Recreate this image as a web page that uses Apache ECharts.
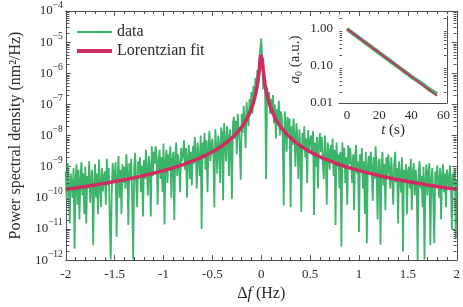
<!DOCTYPE html>
<html><head><meta charset="utf-8">
<script src="https://cdn.jsdelivr.net/npm/echarts@6/dist/echarts.min.js"></script>
<style>html,body{margin:0;padding:0;background:#fff}#c{width:463px;height:307px}</style>
</head><body><div id="c"></div>
<script>
// ---------- DATA ----------
const fStart = -2.0, fStep = 0.01;   // frequency grid of the measured PSD (Hz)
const psd = [
 7e-10, 8e-11, 1.3e-9, 2.5e-10, 1.5e-11, 6e-10, 3e-10, 1e-10, 9e-10, 2.3e-12,
 3.5e-10, 1.2e-9, 6e-11, 8e-10, 2e-11, 4e-10, 1.4e-9, 1.2e-10, 6e-10, 3e-11,
 1e-9, 1.5e-11, 5e-10, 2e-10, 1.5e-9, 7e-11, 4e-10, 8e-10, 3e-12, 2.5e-10,
 1.2e-9, 1e-10, 6e-10, 3e-11, 1.7e-9, 3e-10, 5e-11, 9e-10, 1.6e-10, 5e-10,
 7e-10, 6e-11, 1.8e-9, 2.5e-10, 9e-10, 2e-11, 1.05e-12, 1.2e-10, 1.3e-9, 3.5e-10,
 5e-10, 1.4e-9, 5.6e-12, 4e-10, 2.2e-9, 1e-10, 8e-10, 3e-11, 1.2e-9, 3e-10,
 1e-9, 2e-10, 2.5e-9, 6e-10, 1.35e-11, 1.3e-9, 4e-10, 1.8e-9, 8e-11, 1.05e-12,
 9e-10, 2.8e-9, 3e-10, 5e-11, 1.5e-9, 6e-10, 2e-9, 1.5e-10, 1.1e-9, 2.5e-11,
 1.6e-9, 4e-10, 3.5e-9, 8e-10, 1.2e-10, 2.2e-9, 1e-9, 2.5e-11, 4.5e-9, 5e-10,
 3e-9, 1.2e-9, 4.5e-9, 2e-9, 6e-11, 1.5e-9, 3.5e-9, 4e-10, 2e-9, 1.5e-10,
 5.5e-9, 1.4e-11, 1.5e-9, 3.5e-9, 3e-10, 2.5e-9, 1e-9, 4.5e-9, 1e-10, 1.8e-9,
 3e-9, 1.9e-11, 2e-9, 6e-9, 5e-10, 2.5e-9, 1.2e-9, 1.5e-10, 4e-9, 1.5e-9,
 2.5e-9, 7e-9, 8e-10, 4e-9, 1e-10, 2e-9, 5e-9, 4e-10, 3e-9, 2.5e-10,
 4.5e-9, 1.2e-9, 9e-9, 3e-9, 2e-10, 6e-9, 2e-9, 5e-10, 1e-8, 1e-11,
 6e-9, 2e-9, 1.2e-8, 8e-10, 7e-9, 1.5e-10, 4e-9, 1.4e-8, 1.5e-9, 5e-9,
 8e-9, 2.5e-9, 4.9e-11, 1.6e-8, 4.5e-9, 6e-10, 1e-8, 5e-9, 3e-10, 1.8e-8,
 1.2e-8, 8.3e-11, 2.5e-8, 6e-9, 1.5e-9, 2e-8, 8e-9, 5e-10, 1.6e-8, 5e-9,
 9e-11, 2.5e-8, 4e-8, 8e-9, 3e-8, 2.5e-9, 5e-8, 1.5e-8, 5e-9, 3.8e-10,
 5e-8, 1.2e-8, 9e-8, 3e-8, 4e-9, 1.2e-7, 4e-8, 2e-8, 1.5e-7, 6e-8,
 2.5e-7, 5e-8, 4e-7, 1.5e-7, 7e-7, 2.5e-7, 1.3e-6, 6e-7, 3e-6, 6e-6,
 1.3e-5,
 2.5e-6, 3e-7, 8e-7, 2e-7, 4e-10, 3.5e-7, 1.2e-7, 2.5e-7, 5e-8, 1.5e-7,
 6e-8, 2e-7, 2.5e-8, 1e-7, 8e-9, 7e-8, 3e-8, 1.3e-7, 1e-8, 6e-8,
 4e-8, 8e-9, 5.7e-11, 6e-8, 2.5e-8, 3e-9, 4e-8, 1.2e-8, 3.5e-8, 5e-11,
 2e-8, 5e-9, 3.5e-8, 1e-8, 1e-9, 2.5e-8, 7e-9, 4e-10, 1.6e-8, 4e-9,
 3.5e-11, 1.2e-8, 4e-9, 2e-8, 2e-9, 8e-9, 3e-10, 1.5e-8, 3e-9, 7e-9,
 1e-8, 2.5e-9, 1.4e-8, 2.8e-11, 6e-9, 1e-9, 9e-9, 2e-10, 5e-9, 1.2e-8,
 3e-9, 9e-9, 1.2e-9, 4e-10, 1e-8, 2.5e-9, 6e-11, 6e-9, 3e-9, 8e-10,
 5e-9, 1.5e-9, 8e-9, 5e-10, 3.5e-9, 1.35e-11, 6e-9, 1e-9, 2.5e-9, 2e-10,
 3e-9, 2.7e-12, 6e-9, 1e-9, 4e-9, 3e-10, 2e-9, 6e-11, 5e-9, 1.2e-9,
 4e-9, 1.2e-9, 3e-10, 2.5e-9, 4e-11, 2e-9, 5e-9, 6e-10, 1.5e-9, 8e-12,
 2.5e-9, 7e-10, 4e-9, 2e-10, 1.5e-9, 3e-11, 3e-9, 3.4e-12, 1e-9, 2.2e-9,
 6e-10, 3e-9, 1e-9, 8e-11, 2e-9, 4e-10, 4.5e-9, 7e-10, 2e-11, 1.5e-9,
 1.8e-9, 3.1e-12, 9e-10, 3e-9, 2.5e-10, 1.2e-9, 4e-11, 2e-9, 5e-10, 2.5e-9,
 8e-10, 2e-10, 2e-9, 5e-10, 6e-11, 1.2e-9, 3e-9, 3e-10, 9e-10, 1.5e-11,
 1.5e-9, 5e-10, 1.5e-10, 2e-9, 1.9e-12, 8e-10, 3e-10, 1.2e-9, 3e-11, 7e-10,
 1e-9, 2e-10, 1.8e-9, 4e-11, 6e-10, 1.3e-9, 1.2e-10, 8e-10, 3e-10, 1.05e-12,
 7e-10, 1.5e-9, 2e-10, 5e-10, 5e-11, 1e-9, 1.05e-12, 4e-10, 1.2e-9, 1.2e-10,
 6e-10, 1.3e-9, 3e-12, 4e-10, 9e-10, 8e-11, 3.5e-12, 7e-10, 2.5e-10, 1.1e-9,
 4e-10, 1e-10, 9e-10, 2e-11, 5e-10, 1.2e-9, 1.5e-10, 6e-10, 5e-11, 8e-10,
 7e-10, 2e-10, 1.1e-9, 3.5e-10, 1e-11, 6e-10, 2.5e-10, 9e-10, 5e-12, 4e-10
];
const fitFreq = [-2, -1.9, -1.8, -1.7, -1.6, -1.5, -1.4, -1.3, -1.2, -1.1, -1.0, -0.9, -0.8, -0.7, -0.6, -0.55, -0.5, -0.45, -0.4, -0.35, -0.3, -0.25, -0.2, -0.18, -0.15, -0.12, -0.1, -0.09, -0.08, -0.07, -0.06, -0.05, -0.04, -0.03, -0.02, -0.015, -0.01, -0.005, 0,
  0.005, 0.01, 0.015, 0.02, 0.03, 0.04, 0.05, 0.06, 0.07, 0.08, 0.09, 0.1, 0.12, 0.15, 0.18, 0.2, 0.25, 0.3, 0.35, 0.4, 0.45, 0.5, 0.55, 0.6, 0.7, 0.8, 0.9, 1.0, 1.1, 1.2, 1.3, 1.4, 1.5, 1.6, 1.7, 1.8, 1.9, 2];
const fitPsd = [1.875e-10, 2.077e-10, 2.315e-10, 2.595e-10, 2.929e-10, 3.333e-10, 3.826e-10, 4.437e-10, 5.208e-10, 6.197e-10, 7.499e-10, 9.257e-10, 1.172e-9, 1.530e-9, 2.082e-9, 2.478e-9, 2.998e-9, 3.701e-9, 4.683e-9, 6.114e-9, 8.318e-9, 1.197e-8, 1.867e-8, 2.303e-8, 3.309e-8, 5.149e-8, 7.377e-8, 9.07e-8, 1.142e-7, 1.480e-7, 1.991e-7, 2.812e-7, 4.245e-7, 7.03e-7, 1.323e-6, 1.914e-6, 2.81e-6, 3.91e-6, 4.5e-6,
  3.91e-6, 2.81e-6, 1.914e-6, 1.323e-6, 7.03e-7, 4.245e-7, 2.812e-7, 1.991e-7, 1.480e-7, 1.142e-7, 9.07e-8, 7.377e-8, 5.149e-8, 3.309e-8, 2.303e-8, 1.867e-8, 1.197e-8, 8.318e-9, 6.114e-9, 4.683e-9, 3.701e-9, 2.998e-9, 2.478e-9, 2.082e-9, 1.530e-9, 1.172e-9, 9.257e-10, 7.499e-10, 6.197e-10, 5.208e-10, 4.437e-10, 3.826e-10, 3.333e-10, 2.929e-10, 2.595e-10, 2.315e-10, 2.077e-10, 1.875e-10];
// inset: amplitude decay
const inTime = [0, 2, 4, 6, 8, 10, 12, 14, 16, 18, 20, 22, 24, 26, 28, 30, 32, 34, 36, 38, 40, 42, 44, 46, 48, 50, 52, 54, 56];
const inAmp  = [1.0, 0.86, 0.745, 0.64, 0.552, 0.478, 0.41, 0.356, 0.305, 0.265, 0.226, 0.197, 0.168, 0.146, 0.126, 0.108, 0.094, 0.081, 0.0695, 0.060, 0.052, 0.045, 0.0395, 0.0345, 0.030, 0.0255, 0.022, 0.0195, 0.0175];
const inFitTime = [0, 8, 16, 24, 32, 40, 48, 56];
const inFitAmp  = [1.0, 0.553, 0.306, 0.169, 0.0935, 0.0517, 0.0286, 0.0158];
const xTickLabelsInset = [0, 20, 40, 60];
const yTickLabelsInset = [0.01, 0.1, 1];

// ---------- STYLE ----------
const FONT = 'Liberation Serif';
const TXT = '#2b2b2b';
const AX = '#505050';
const GREEN = '#3cb46a';
const RED = '#cf2c60';

const psdPairs = psd.map((v, i) => [Number((fStart + i * fStep).toFixed(2)), v]);
const fitPairs = fitFreq.map((f, i) => [f, fitPsd[i]]);
const inPairs = inTime.map((t, i) => [t, inAmp[i]]);
const inFitPairs = inFitTime.map((t, i) => [t, inFitAmp[i]]);

const mainMinor = [];
for (let e = -12; e < -4; e++) for (let k = 2; k <= 9; k++) mainMinor.push(Number((k * Math.pow(10, e)).toPrecision(3)));
const insetMinor = [0.02,0.03,0.04,0.05,0.06,0.07,0.08,0.09,0.2,0.3,0.4,0.5,0.6,0.7,0.8,0.9,2];

function minorTicks(xi, yi, xMin, xMax, vals, len) {
  return {
    type: 'custom', xAxisIndex: xi, yAxisIndex: yi, silent: true, z: 5, clip: false,
    data: vals.map(v => [xMin, v]),
    renderItem: (params, api) => {
      const v = api.value(1);
      const a = api.coord([xMin, v]), b = api.coord([xMax, v]);
      const y = Math.round(a[1]) + 0.5;
      const xa = Math.round(a[0]) + 0.5, xb = Math.round(b[0]) - 0.5;
      return { type: 'group', children: [
        { type: 'line', shape: { x1: xa, y1: y, x2: xa + len, y2: y }, style: { stroke: AX, lineWidth: 1 } },
        { type: 'line', shape: { x1: xb - len, y1: y, x2: xb, y2: y }, style: { stroke: AX, lineWidth: 1 } }
      ] };
    }
  };
}

const axLine = { show: true, onZero: false, lineStyle: { color: AX, width: 1 } };
const supRich = {
  b: { fontSize: 13, fontFamily: FONT, color: TXT, lineHeight: 22 },
  s: { fontSize: 9.5, fontFamily: FONT, color: TXT, lineHeight: 11, verticalAlign: 'top' }
};
function powLabel(v) {
  const e = Math.round(Math.log10(v));
  return '{b|10}{s|' + (e < 0 ? '\u2212' : '') + Math.abs(e) + '}';
}
const legendText = { fontFamily: FONT, fontSize: 16, color: TXT, lineHeight: 16 };

const chart = echarts.init(document.getElementById('c'), null, { renderer: 'canvas' });
chart.setOption({
  animation: false,
  backgroundColor: '#fff',
  textStyle: { fontFamily: FONT, color: TXT },
  grid: [
    { left: 59, top: 10, right: 5, bottom: 43 },
    { left: 339, top: 16, width: 108, height: 87, show: true, backgroundColor: '#fff', borderWidth: 0, z: 10 }
  ],
  legend: [
    { orient: 'vertical', left: 72, top: 19, itemWidth: 35, itemHeight: 2, icon: 'rect',
      data: ['data'], textStyle: legendText, selectedMode: false },
    { orient: 'vertical', left: 72, top: 38, itemWidth: 35, itemHeight: 4, icon: 'rect',
      data: ['Lorentzian fit'], textStyle: legendText, selectedMode: false }
  ],
  xAxis: [
    { type: 'value', gridIndex: 0, min: -2, max: 2, interval: 0.5, position: 'bottom',
      axisLine: axLine, splitLine: { show: false },
      axisTick: { inside: true, length: 5, lineStyle: { color: AX } },
      minorTick: { show: true, splitNumber: 5, length: 3, lineStyle: { color: AX } },
      axisLabel: { fontFamily: FONT, fontSize: 13, color: TXT, margin: 8 },
      name: '{n|\u0394}{i|f} (Hz)', nameLocation: 'middle', nameGap: 24,
      nameTextStyle: { fontFamily: FONT, fontSize: 16, color: TXT,
        rich: { n: { fontFamily: FONT, fontSize: 16, color: TXT }, i: { fontFamily: FONT, fontSize: 16, fontStyle: 'italic', color: TXT } } } },
    { type: 'value', gridIndex: 0, min: -2, max: 2, interval: 0.5, position: 'top',
      axisLine: axLine, splitLine: { show: false },
      axisTick: { inside: true, length: 5, lineStyle: { color: AX } },
      minorTick: { show: true, splitNumber: 5, length: 3, lineStyle: { color: AX } },
      axisLabel: { show: false } },
    { type: 'value', gridIndex: 1, min: -5, max: 62.2, position: 'bottom',
      axisLine: axLine, splitLine: { show: false },
      axisTick: { inside: true, length: 4, lineStyle: { color: AX }, customValues: [0, 10, 20, 30, 40, 50, 60] },
      axisLabel: { fontFamily: FONT, fontSize: 13, color: TXT, margin: 6, customValues: xTickLabelsInset },
      name: '{i|t} (s)', nameLocation: 'middle', nameGap: 20,
      nameTextStyle: { fontFamily: FONT, fontSize: 15, color: TXT,
        rich: { i: { fontFamily: FONT, fontSize: 15, fontStyle: 'italic', color: TXT } } } },
    { type: 'value', gridIndex: 1, min: -5, max: 62.2, position: 'top',
      axisLine: axLine, splitLine: { show: false },
      axisTick: { inside: true, length: 4, lineStyle: { color: AX }, customValues: [0, 10, 20, 30, 40, 50, 60] },
      axisLabel: { show: false } }
  ],
  yAxis: [
    { type: 'log', logBase: 10, gridIndex: 0, min: 1e-12, max: 1e-4, position: 'left',
      axisLine: axLine, splitLine: { show: false },
      axisTick: { inside: true, length: 5, lineStyle: { color: AX } },
      axisLabel: { margin: 3, formatter: powLabel, rich: supRich },
      name: 'Power spectral density (nm\u00b2/Hz)', nameLocation: 'middle', nameGap: 38,
      nameTextStyle: { fontFamily: FONT, fontSize: 16, color: TXT } },
    { type: 'log', logBase: 10, gridIndex: 0, min: 1e-12, max: 1e-4, position: 'right',
      axisLine: axLine, splitLine: { show: false },
      axisTick: { inside: true, length: 5, lineStyle: { color: AX } },
      axisLabel: { show: false } },
    { type: 'log', logBase: 10, gridIndex: 1, min: 0.01, max: 2.25, position: 'left',
      axisLine: axLine, splitLine: { show: false },
      axisTick: { inside: true, length: 4, lineStyle: { color: AX }, customValues: yTickLabelsInset },
      axisLabel: { fontFamily: FONT, fontSize: 13, color: TXT, margin: 6, customValues: yTickLabelsInset,
        formatter: v => Number(v).toFixed(2) },
      name: '{i|a}{sub|0} (a.u.)', nameLocation: 'middle', nameGap: 35,
      nameTextStyle: { fontFamily: FONT, fontSize: 15, color: TXT, lineHeight: 18,
        rich: { i: { fontFamily: FONT, fontSize: 15, fontStyle: 'italic', color: TXT, lineHeight: 18 },
                sub: { fontFamily: FONT, fontSize: 10, color: TXT, lineHeight: 10, verticalAlign: 'bottom' } } } },
    { type: 'log', logBase: 10, gridIndex: 1, min: 0.01, max: 2.25, position: 'right',
      axisLine: axLine, splitLine: { show: false },
      axisTick: { inside: true, length: 4, lineStyle: { color: AX }, customValues: yTickLabelsInset },
      axisLabel: { show: false } }
  ],
  series: [
    { name: 'data', type: 'line', xAxisIndex: 0, yAxisIndex: 0, data: psdPairs, symbol: 'none',
      lineStyle: { color: GREEN, width: 1.8 }, itemStyle: { color: GREEN }, z: 3 },
    { name: 'Lorentzian fit', type: 'line', xAxisIndex: 0, yAxisIndex: 0, data: fitPairs, symbol: 'none',
      lineStyle: { color: RED, width: 3.5 }, itemStyle: { color: RED }, z: 4 },
    minorTicks(0, 0, -2, 2, mainMinor, 3),
    { name: 'inset data', type: 'line', xAxisIndex: 2, yAxisIndex: 2, data: inPairs, symbol: 'none',
      lineStyle: { color: GREEN, width: 4 }, z: 11 },
    { name: 'inset fit', type: 'line', xAxisIndex: 2, yAxisIndex: 2, data: inFitPairs, symbol: 'none',
      lineStyle: { color: RED, width: 1.8 }, z: 12 },
    Object.assign(minorTicks(2, 2, -5, 62.2, insetMinor, 2.5), { z: 13 })
  ]
});
</script>
</body></html>
